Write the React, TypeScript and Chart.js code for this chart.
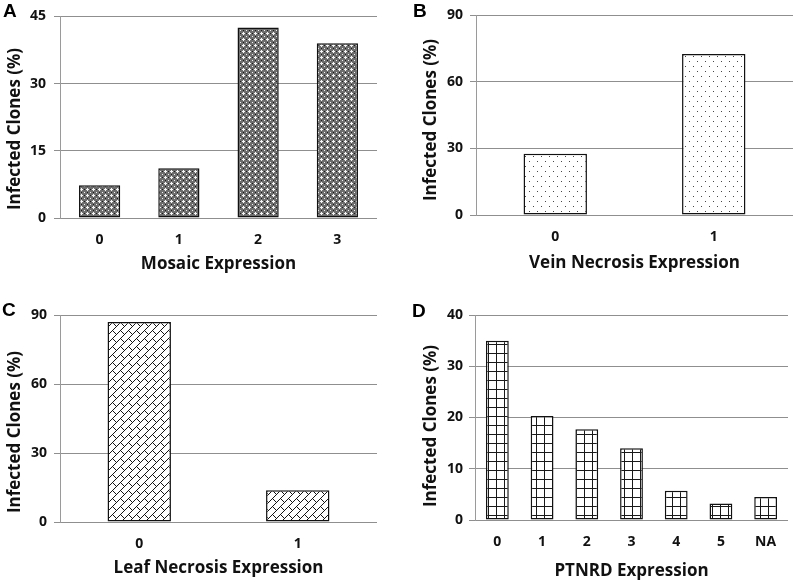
import React, { useEffect, useRef } from "react";
import { Chart, registerables } from "chart.js";

Chart.register(...registerables);

// ---- Data ----
const mosaicLabels = ["0", "1", "2", "3"];
const mosaicValues = [7.3, 11.1, 42.5, 39.0];

const veinLabels = ["0", "1"];
const veinValues = [27.6, 72.6];

const leafLabels = ["0", "1"];
const leafValues = [87.0, 13.8];

const ptnrdLabels = ["0", "1", "2", "3", "4", "5", "NA"];
const ptnrdValues = [35.0, 20.3, 17.7, 14.0, 5.7, 3.2, 4.5];

const yTitle = "Infected Clones (%)";

const FONT = "'Open Sans', 'Noto Sans', sans-serif";

type PatternKind = "checker" | "dots" | "brick" | "grid";

function makePattern(kind: PatternKind): CanvasPattern | string {
  const c = document.createElement("canvas");
  let w = 8, h = 8;
  if (kind === "checker") { w = 6; h = 6; }
  if (kind === "dots") { w = 8; h = 10; }
  if (kind === "brick") { w = 16; h = 16; }
  if (kind === "grid") { w = 8; h = 9; }
  c.width = w; c.height = h;
  const ctx = c.getContext("2d")!;
  const img = ctx.createImageData(w, h);
  const set = (x: number, y: number, v: number) => {
    const i = (y * w + x) * 4;
    img.data[i] = v; img.data[i + 1] = v; img.data[i + 2] = v; img.data[i + 3] = 255;
  };
  for (let y = 0; y < h; y++) for (let x = 0; x < w; x++) {
    let v = 255;
    if (kind === "checker") {
      v = 110;
      const white = [[3,2],[2,3],[3,3],[4,3],[3,4],[0,0]];
      const black = [[0,3],[3,0]];
      if (white.some(p => p[0] === x && p[1] === y)) v = 245;
      if (black.some(p => p[0] === x && p[1] === y)) v = 25;
    } else if (kind === "dots") {
      if ((x === 1 && y === 1) || (x === 5 && y === 6)) v = 70;
    } else if (kind === "brick") {
      const u = x + y;
      const vv = x - y + 32;
      const band = Math.floor(u / 8);
      if (u % 8 === 0) v = 20;
      else if ((vv + (band % 2) * 8) % 16 === 0) v = 20;
    } else if (kind === "grid") {
      if (x === 0 || y === 0) v = 25;
    }
    set(x, y, v);
  }
  ctx.putImageData(img, 0, 0);
  const p = ctx.createPattern(c, "repeat");
  return p || "#999";
}

interface PanelCfg {
  letter: string;
  letterX: number;
  letterY: number;
  labels: string[];
  values: number[];
  max: number;
  step: number;
  xTitle: string;
  pattern: PatternKind;
  barPct: number;
  width: number;
  height: number;
  area: { left: number; right: number; top: number; bottom: number };
  yTitlePos: { x: number; y: number };
  xTickPad: number;
  xTitlePad: number;
  yTickPad: number;
}

const panelDecor = {
  id: "panelDecor",
  afterDraw(chart: any, _args: any, opts: any) {
    const ctx = chart.ctx;
    ctx.save();
    ctx.fillStyle = "#000";
    ctx.font = "bold 19px 'Liberation Sans', Arial, sans-serif";
    ctx.textAlign = "left";
    ctx.textBaseline = "alphabetic";
    ctx.fillText(opts.letter, opts.letterX, opts.letterY);
    ctx.translate(opts.yx, opts.yy);
    ctx.rotate(-Math.PI / 2);
    ctx.font = `bold 17px ${FONT}`;
    ctx.textAlign = "center";
    ctx.textBaseline = "middle";
    ctx.fillStyle = "#111";
    ctx.fillText(opts.yText, 0, 0);
    ctx.restore();
  },
};

function Panel({ cfg, left, top }: { cfg: PanelCfg; left: number; top: number }) {
  const ref = useRef<HTMLCanvasElement>(null);
  useEffect(() => {
    if (!ref.current) return;
    const fill = makePattern(cfg.pattern);
    const chart = new Chart(ref.current, {
      type: "bar",
      data: {
        labels: cfg.labels,
        datasets: [
          {
            data: cfg.values,
            backgroundColor: fill as any,
            borderColor: "#111",
            borderWidth: 1.5,
            borderSkipped: false,
            categoryPercentage: 1,
            barPercentage: cfg.barPct,
          },
        ],
      },
      options: {
        animation: false,
        responsive: false,
        maintainAspectRatio: false,
        devicePixelRatio: 1,
        layout: {
          padding: {
            left: 0,
            top: cfg.area.top,
            right: cfg.width - cfg.area.right,
            bottom: 0,
          },
        },
        plugins: {
          legend: { display: false },
          tooltip: { enabled: false },
          panelDecor: {
            letter: cfg.letter,
            letterX: cfg.letterX,
            letterY: cfg.letterY,
            yText: yTitle,
            yx: cfg.yTitlePos.x,
            yy: cfg.yTitlePos.y,
          },
        } as any,
        scales: {
          x: {
            grid: { display: false },
            border: { display: false },
            ticks: {
              color: "#111",
              font: { family: FONT, size: 14, weight: "bold" },
              padding: cfg.xTickPad,
              maxRotation: 0,
            },
            title: {
              display: true,
              text: cfg.xTitle,
              color: "#111",
              font: { family: FONT, size: 17, weight: "bold" },
              padding: { top: 0, bottom: cfg.xTitlePad },
            },
            afterFit: (s: any) => {
              s.height = cfg.height - cfg.area.bottom;
            },
          },
          y: {
            min: 0,
            max: cfg.max,
            ticks: {
              stepSize: cfg.step,
              color: "#111",
              font: { family: FONT, size: 14, weight: "bold" },
              padding: cfg.yTickPad,
            },
            grid: { color: "#8f8f8f", lineWidth: 1, tickLength: 6, drawTicks: true },
            border: { display: true, color: "#9a9a9a", width: 1 },
            afterFit: (s: any) => {
              s.width = cfg.area.left;
            },
          },
        },
      },
      plugins: [panelDecor],
    });
    return () => chart.destroy();
  }, [cfg]);
  return (
    <canvas
      ref={ref}
      width={cfg.width}
      height={cfg.height}
      style={{ position: "absolute", left, top, width: cfg.width, height: cfg.height }}
    />
  );
}

const panelA: PanelCfg = {
  letter: "A", letterX: 3, letterY: 17,
  labels: mosaicLabels, values: mosaicValues, max: 45, step: 15,
  xTitle: "Mosaic Expression", pattern: "checker", barPct: 0.52,
  width: 397, height: 290,
  area: { left: 60, right: 377, top: 16, bottom: 218 },
  yTitlePos: { x: 15, y: 129 },
  xTickPad: 6, xTitlePad: 16, yTickPad: 8,
};

const panelB: PanelCfg = {
  letter: "B", letterX: 13, letterY: 17,
  labels: veinLabels, values: veinValues, max: 90, step: 30,
  xTitle: "Vein Necrosis Expression", pattern: "dots", barPct: 0.4,
  width: 397, height: 290,
  area: { left: 76, right: 393, top: 13, bottom: 215 },
  yTitlePos: { x: 31, y: 120 },
  xTickPad: 6, xTitlePad: 17, yTickPad: 7,
};

const panelC: PanelCfg = {
  letter: "C", letterX: 2, letterY: 26,
  labels: leafLabels, values: leafValues, max: 90, step: 30,
  xTitle: "Leaf Necrosis Expression", pattern: "brick", barPct: 0.4,
  width: 397, height: 291,
  area: { left: 60, right: 377, top: 25, bottom: 232 },
  yTitlePos: { x: 15, y: 142 },
  xTickPad: 6, xTitlePad: 3, yTickPad: 7,
};

const panelD: PanelCfg = {
  letter: "D", letterX: 12, letterY: 27,
  labels: ptnrdLabels, values: ptnrdValues, max: 40, step: 10,
  xTitle: "PTNRD Expression", pattern: "grid", barPct: 0.51,
  width: 397, height: 291,
  area: { left: 75, right: 388, top: 25, bottom: 230 },
  yTitlePos: { x: 31, y: 136 },
  xTickPad: 6, xTitlePad: 0, yTickPad: 6,
};

export default function App() {
  return (
    <div style={{ position: "absolute", left: 0, top: 0, width: 797, height: 581, background: "#fff" }}>
      <Panel cfg={panelA} left={0} top={0} />
      <Panel cfg={panelB} left={400} top={0} />
      <Panel cfg={panelC} left={0} top={290} />
      <Panel cfg={panelD} left={400} top={290} />
    </div>
  );
}
